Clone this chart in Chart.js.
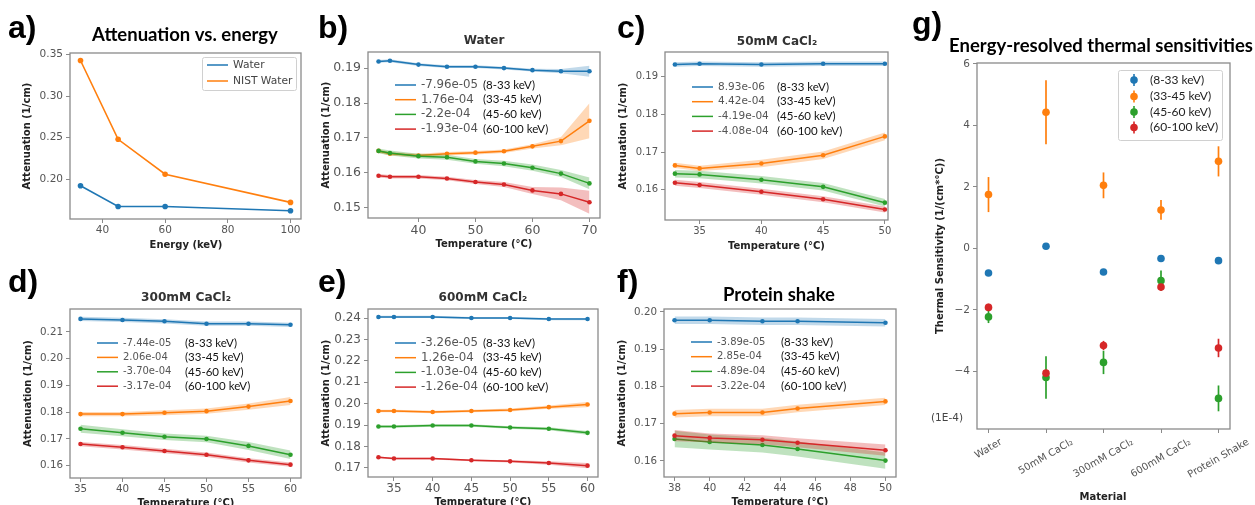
<!DOCTYPE html>
<html><head><meta charset="utf-8">
<script src="https://cdn.jsdelivr.net/npm/chart.js@4/dist/chart.umd.min.js"></script>
<style>
html,body{margin:0;padding:0;background:#fff;width:1255px;height:505px;overflow:hidden;position:relative}
canvas{position:absolute}
</style></head><body>
<script>
// ================= DATA =================
const energyRanges = ['(8-33 keV)', '(33-45 keV)', '(45-60 keV)', '(60-100 keV)'];

// a) Attenuation vs. energy
const aEnergy = [33, 45, 60, 100];
const aWater = [0.192, 0.167, 0.167, 0.162];
const aNistWater = [0.343, 0.248, 0.206, 0.172];
const aSeriesNames = ['Water', 'NIST Water'];
const aXTicks = [40, 60, 80, 100];
const aYTicks = [0.20, 0.25, 0.30, 0.35];

// b) Water
const bTemp = [33, 35, 40, 45, 50, 55, 60, 65, 70];
const b8_33 = [0.1919, 0.1921, 0.1910, 0.1904, 0.1904, 0.1900, 0.1894, 0.1891, 0.1891];
const b8_33Err = [0.0004, 0.0004, 0.0004, 0.0004, 0.0004, 0.0004, 0.0004, 0.0006, 0.0016];
const b33_45 = [0.1663, 0.1655, 0.1650, 0.1655, 0.1658, 0.1662, 0.1676, 0.1691, 0.1749];
const b33_45Err = [0.0005, 0.0005, 0.0005, 0.0005, 0.0005, 0.0005, 0.0006, 0.0012, 0.0050];
const b45_60 = [0.1663, 0.1657, 0.1648, 0.1645, 0.1633, 0.1627, 0.1615, 0.1598, 0.1570];
const b45_60Err = [0.0007, 0.0007, 0.0007, 0.0007, 0.0007, 0.0008, 0.0009, 0.0010, 0.0017];
const b60_100 = [0.1592, 0.1589, 0.1589, 0.1584, 0.1574, 0.1567, 0.1550, 0.1540, 0.1516];
const b60_100Err = [0.0005, 0.0005, 0.0005, 0.0005, 0.0006, 0.0007, 0.0010, 0.0018, 0.0033];
const bSlopes = ['-7.96e-05', '1.76e-04', '-2.2e-04', '-1.93e-04'];
const bXTicks = [40, 50, 60, 70];
const bYTicks = [0.15, 0.16, 0.17, 0.18, 0.19];

// c) 50mM CaCl2
const cTemp = [33, 35, 40, 45, 50];
const c8_33 = [0.1933, 0.1935, 0.1933, 0.1935, 0.1935];
const c8_33Err = [0.0006, 0.0006, 0.0006, 0.0006, 0.0006];
const c33_45 = [0.1665, 0.1657, 0.1670, 0.1692, 0.1742];
const c33_45Err = [0.0007, 0.0007, 0.0010, 0.0010, 0.0010];
const c45_60 = [0.1643, 0.1641, 0.1627, 0.1608, 0.1566];
const c45_60Err = [0.0010, 0.0010, 0.0010, 0.0010, 0.0010];
const c60_100 = [0.1619, 0.1613, 0.1595, 0.1575, 0.1548];
const c60_100Err = [0.0008, 0.0008, 0.0008, 0.0008, 0.0008];
const cSlopes = ['8.93e-06', '4.42e-04', '-4.19e-04', '-4.08e-04'];
const cXTicks = [35, 40, 45, 50];
const cYTicks = [0.16, 0.17, 0.18, 0.19];

// d) 300mM CaCl2
const dTemp = [35, 40, 45, 50, 55, 60];
const d8_33 = [0.2149, 0.2145, 0.2140, 0.2131, 0.2131, 0.2127];
const d8_33Err = [0.0008, 0.0008, 0.0008, 0.0008, 0.0008, 0.0008];
const d33_45 = [0.1793, 0.1793, 0.1798, 0.1804, 0.1821, 0.1842];
const d33_45Err = [0.0008, 0.0008, 0.0009, 0.0010, 0.0012, 0.0015];
const d45_60 = [0.1738, 0.1723, 0.1708, 0.1700, 0.1674, 0.1641];
const d45_60Err = [0.0015, 0.0013, 0.0012, 0.0012, 0.0015, 0.0016];
const d60_100 = [0.1681, 0.1669, 0.1655, 0.1641, 0.1620, 0.1604];
const d60_100Err = [0.0008, 0.0008, 0.0008, 0.0008, 0.0008, 0.0008];
const dSlopes = ['-7.44e-05', '2.06e-04', '-3.70e-04', '-3.17e-04'];
const dXTicks = [35, 40, 45, 50, 55, 60];
const dYTicks = [0.16, 0.17, 0.18, 0.19, 0.20, 0.21];

// e) 600mM CaCl2
const eTemp = [33, 35, 40, 45, 50, 55, 60];
const e8_33 = [0.2405, 0.2405, 0.2405, 0.2400, 0.2400, 0.2395, 0.2395];
const e8_33Err = [0.0005, 0.0005, 0.0005, 0.0005, 0.0005, 0.0005, 0.0005];
const e33_45 = [0.1966, 0.1966, 0.1961, 0.1966, 0.1971, 0.1984, 0.1996];
const e33_45Err = [0.0006, 0.0006, 0.0006, 0.0006, 0.0007, 0.0008, 0.0012];
const e45_60 = [0.1894, 0.1894, 0.1898, 0.1898, 0.1889, 0.1883, 0.1864];
const e45_60Err = [0.0006, 0.0006, 0.0006, 0.0006, 0.0006, 0.0007, 0.0009];
const e60_100 = [0.1750, 0.1744, 0.1744, 0.1736, 0.1731, 0.1723, 0.1711];
const e60_100Err = [0.0004, 0.0004, 0.0004, 0.0004, 0.0005, 0.0008, 0.0012];
const eSlopes = ['-3.26e-05', '1.26e-04', '-1.03e-04', '-1.26e-04'];
const eXTicks = [35, 40, 45, 50, 55, 60];
const eYTicks = [0.17, 0.18, 0.19, 0.20, 0.21, 0.22, 0.23, 0.24];

// f) Protein shake
const fTemp = [38, 40, 43, 45, 50];
const f8_33 = [0.1978, 0.1978, 0.1975, 0.1975, 0.1971];
const f8_33Err = [0.0010, 0.0010, 0.0010, 0.0010, 0.0010];
const f33_45 = [0.1727, 0.1730, 0.1730, 0.1741, 0.1760];
const f33_45Err = [0.0010, 0.0010, 0.0010, 0.0010, 0.0010];
const f45_60 = [0.1659, 0.1651, 0.1643, 0.1632, 0.1601];
const f45_60Err = [0.0022, 0.0020, 0.0020, 0.0020, 0.0022];
const f60_100 = [0.1668, 0.1662, 0.1657, 0.1649, 0.1629];
const f60_100Err = [0.0015, 0.0012, 0.0012, 0.0012, 0.0015];
const fSlopes = ['-3.89e-05', '2.85e-04', '-4.89e-04', '-3.22e-04'];
const fXTicks = [38, 40, 42, 44, 46, 48, 50];
const fYTicks = [0.16, 0.17, 0.18, 0.19, 0.20];

// g) Energy-resolved thermal sensitivities (1E-4)
const gMaterials = ['Water', '50mM CaCl\u2082', '300mM CaCl\u2082', '600mM CaCl\u2082', 'Protein Shake'];
const g8_33 = [-0.80, 0.07, -0.77, -0.33, -0.40];
const g8_33Err = [0, 0, 0, 0, 0];
const g33_45 = [1.75, 4.43, 2.05, 1.25, 2.83];
const g33_45Err = [0.57, 1.04, 0.42, 0.32, 0.49];
const g45_60 = [-2.23, -4.20, -3.71, -1.05, -4.88];
const g45_60Err = [0.20, 0.69, 0.38, 0.33, 0.42];
const g60_100 = [-1.92, -4.06, -3.16, -1.26, -3.24];
const g60_100Err = [0.12, 0.10, 0.15, 0.10, 0.30];
const gYTicks = [-4, -2, 0, 2, 4, 6];

// ================= STYLE / HELPERS =================
const COLORS = ['#1f77b4', '#ff7f0e', '#2ca02c', '#d62728'];
const BANDS = ['rgba(31,119,180,0.28)', 'rgba(255,127,14,0.3)', 'rgba(44,160,44,0.3)', 'rgba(214,39,40,0.3)'];
const FRAME = '#8a8a8a';
const TICKC = '#555';
const DV = '"DejaVu Sans", sans-serif';
const LATO = 'Lato, "Open Sans", sans-serif';
const YW = 40, XH = 22;
Chart.defaults.font.family = DV;
const PANELS = new Map();

function txt(ctx, s, x, y, font, color, align, base) {
  ctx.font = font; ctx.fillStyle = color; ctx.textAlign = align || 'left'; ctx.textBaseline = base || 'alphabetic';
  ctx.fillText(s, x, y);
}

function axisCfg(axis, min, max, ticks, fmt, size) {
  return {
    type: 'linear', min: min, max: max,
    afterBuildTicks: s => { s.ticks = ticks.map(v => ({ value: v })); },
    afterFit: s => {
      if (axis === 'x') s.height = XH; else s.width = YW;
      s.paddingTop = 0; s.paddingBottom = 0; s.paddingLeft = 0; s.paddingRight = 0;
    },
    grid: { display: true, drawOnChartArea: false, drawTicks: true, tickLength: 4, color: FRAME, lineWidth: 1 },
    border: { display: false },
    ticks: { callback: v => fmt(v), font: { family: DV, size: size }, color: TICKC, padding: axis === 'x' ? 1 : 3,
             autoSkip: false, maxRotation: 0, minRotation: 0 }
  };
}

const decor = {
  id: 'decor',
  afterDraw(chart) {
    const p = PANELS.get(chart.canvas); if (!p) return;
    const ctx = chart.ctx, ca = chart.chartArea;
    ctx.save();
    ctx.strokeStyle = FRAME; ctx.lineWidth = 1.3;
    ctx.strokeRect(ca.left, ca.top, ca.right - ca.left, ca.bottom - ca.top);
    ctx.translate(-p.cell[0], -p.cell[1]);
    const [L, T, R, B] = p.plot;
    txt(ctx, p.letter, p.letterPos[0], p.letterPos[1], 'bold 32px "Liberation Sans", Arial, sans-serif', '#000', 'left', 'alphabetic');
    txt(ctx, p.title, p.titlePos[0], p.titlePos[1], p.titleFont, p.titleColor, 'center', 'middle');
    txt(ctx, p.xTitle, (L + R) / 2, B + p.xTitleDy, 'bold 10px ' + DV, '#222', 'center', 'middle');
    ctx.save(); ctx.translate(L - p.yTitleDx, (T + B) / 2); ctx.rotate(-Math.PI / 2);
    txt(ctx, p.yTitle, 0, 0, 'bold 10px ' + DV, '#222', 'center', 'middle');
    ctx.restore();
    if (p.extra) p.extra(ctx, chart, p);
    ctx.restore();
  }
};

function makeCanvas(cell) {
  const c = document.createElement('canvas');
  c.width = cell[2]; c.height = cell[3];
  c.style.left = cell[0] + 'px'; c.style.top = cell[1] + 'px';
  c.style.width = cell[2] + 'px'; c.style.height = cell[3] + 'px';
  document.body.appendChild(c);
  return c;
}

function baseOptions(p) {
  const [cx, cy, cw, ch] = p.cell; const [L, T, R, B] = p.plot;
  return {
    responsive: false, animation: false, devicePixelRatio: 1,
    layout: { padding: { left: L - cx - YW, top: T - cy, right: cx + cw - R, bottom: cy + ch - B - XH } },
    plugins: { legend: { display: false }, tooltip: { enabled: false } },
    elements: { line: { tension: 0 } },
    scales: {
      x: axisCfg('x', p.xMin, p.xMax, p.xTicks, p.xFmt, p.tickSize),
      y: axisCfg('y', p.yMin, p.yMax, p.yTicks, p.yFmt, p.tickSize)
    }
  };
}

const fmt2 = v => v.toFixed(2);
const fmt0 = v => String(v);

function bandDatasets(x, ys, errs, ptR) {
  const ds = [];
  ys.forEach((y, k) => {
    const e = errs[k], base = 100 - 10 * k;
    ds.push({ data: x.map((t, i) => ({ x: t, y: y[i] + e[i] })), borderColor: 'transparent', borderWidth: 0,
              pointRadius: 0, fill: '+1', backgroundColor: BANDS[k], order: base + 2 });
    ds.push({ data: x.map((t, i) => ({ x: t, y: y[i] - e[i] })), borderColor: 'transparent', borderWidth: 0,
              pointRadius: 0, fill: false, order: base + 1 });
    ds.push({ data: x.map((t, i) => ({ x: t, y: y[i] })), borderColor: COLORS[k], borderWidth: 1.5,
              pointRadius: ptR, pointBackgroundColor: COLORS[k], pointBorderWidth: 0, fill: false, order: base });
  });
  return ds;
}

function inLegend(ctx, chart, p) {
  const [L, T] = p.plot;
  for (let k = 0; k < 4; k++) {
    const y = T + p.legY0 + p.legDy * k;
    ctx.strokeStyle = COLORS[k]; ctx.lineWidth = 1.5;
    ctx.beginPath(); ctx.moveTo(L + 27, y); ctx.lineTo(L + 48, y); ctx.stroke();
    txt(ctx, p.slopes[k], L + 53, y, p.numSize + 'px ' + DV, '#555', 'left', 'middle');
    txt(ctx, energyRanges[k], L + p.rangeDx, y, '11.5px ' + LATO, '#111', 'left', 'middle');
  }
}

function attenPanel(p) {
  const canvas = makeCanvas(p.cell);
  p.extra = inLegend; p.xFmt = fmt0; p.yFmt = fmt2;
  p.xTitle = 'Temperature (\u00B0C)'; p.yTitle = 'Attenuation (1/cm)';
  p.xTitleDy = p.xTitleDy || 26; p.yTitleDx = 42;
  PANELS.set(canvas, p);
  new Chart(canvas, { type: 'line', data: { datasets: bandDatasets(p.temp, p.series, p.errs, 2.3) },
                      options: baseOptions(p), plugins: [decor] });
}

// ================= PANEL a =================
(function () {
  const p = {
    cell: [0, 0, 305, 252], plot: [70, 53, 302, 219],
    xMin: 29.65, xMax: 103.35, yMin: 0.152, yMax: 0.352, xTicks: aXTicks, yTicks: aYTicks,
    xFmt: fmt0, yFmt: fmt2, tickSize: 10.5,
    letter: 'a)', letterPos: [8, 38],
    title: 'Attenuation vs. energy', titlePos: [185, 35], titleFont: 'bold 18.5px ' + LATO, titleColor: '#000',
    xTitle: 'Energy (keV)', yTitle: 'Attenuation (1/cm)', xTitleDy: 26, yTitleDx: 43,
    extra: (ctx) => {
      ctx.fillStyle = 'rgba(255,255,255,0.8)'; ctx.strokeStyle = '#d0d0d0'; ctx.lineWidth = 1;
      ctx.beginPath(); ctx.roundRect(202.5, 57.5, 94, 33, 2); ctx.fill(); ctx.stroke();
      [aWater, aNistWater].forEach((s, k) => {
        const y = 65 + 16 * k;
        ctx.strokeStyle = COLORS[k]; ctx.lineWidth = 1.5;
        ctx.beginPath(); ctx.moveTo(207, y); ctx.lineTo(228, y); ctx.stroke();
        txt(ctx, aSeriesNames[k], 233, y, '10.7px ' + DV, '#444', 'left', 'middle');
      });
    }
  };
  const canvas = makeCanvas(p.cell); PANELS.set(canvas, p);
  const ds = [aWater, aNistWater].map((s, k) => ({
    data: aEnergy.map((e, i) => ({ x: e, y: s[i] })), borderColor: COLORS[k], borderWidth: 1.6,
    pointRadius: 2.8, pointBackgroundColor: COLORS[k], pointBorderWidth: 0, fill: false, order: 10 - k
  }));
  new Chart(canvas, { type: 'line', data: { datasets: ds }, options: baseOptions(p), plugins: [decor] });
})();

// ================= PANELS b-f =================
attenPanel({ cell: [305, 0, 305, 252], plot: [368, 52, 600, 218], xMin: 31.15, xMax: 71.85, yMin: 0.1471, yMax: 0.1946,
  xTicks: bXTicks, yTicks: bYTicks, tickSize: 12.5, temp: bTemp,
  series: [b8_33, b33_45, b45_60, b60_100], errs: [b8_33Err, b33_45Err, b45_60Err, b60_100Err],
  slopes: bSlopes, numSize: 11.8, legY0: 33, legDy: 14.7, rangeDx: 115,
  letter: 'b)', letterPos: [318, 38], title: 'Water', titlePos: [484, 41], titleFont: 'bold 12px ' + DV, titleColor: '#333' });

attenPanel({ cell: [610, 0, 300, 252], plot: [665, 52, 888, 220], xMin: 32.2, xMax: 50.25, yMin: 0.152, yMax: 0.1966,
  xTicks: cXTicks, yTicks: cYTicks, tickSize: 10, temp: cTemp,
  series: [c8_33, c33_45, c45_60, c60_100], errs: [c8_33Err, c33_45Err, c45_60Err, c60_100Err],
  slopes: cSlopes, numSize: 10.5, legY0: 35, legDy: 14.7, rangeDx: 112,
  letter: 'c)', letterPos: [617, 38], title: '50mM CaCl\u2082', titlePos: [777, 42], titleFont: 'bold 12px ' + DV, titleColor: '#333' });

attenPanel({ cell: [0, 252, 305, 253], plot: [70, 309, 302, 478], xMin: 33.75, xMax: 61.25, yMin: 0.1554, yMax: 0.2186,
  xTicks: dXTicks, yTicks: dYTicks, tickSize: 10.3, temp: dTemp,
  series: [d8_33, d33_45, d45_60, d60_100], errs: [d8_33Err, d33_45Err, d45_60Err, d60_100Err],
  slopes: dSlopes, numSize: 10, legY0: 34, legDy: 14.4, rangeDx: 115, xTitleDy: 25,
  letter: 'd)', letterPos: [8, 292], title: '300mM CaCl\u2082', titlePos: [186, 298], titleFont: 'bold 12.2px ' + DV, titleColor: '#333' });

attenPanel({ cell: [305, 252, 305, 253], plot: [368, 309, 598, 477], xMin: 31.65, xMax: 61.35, yMin: 0.1658, yMax: 0.2442,
  xTicks: eXTicks, yTicks: eYTicks, tickSize: 12, temp: eTemp,
  series: [e8_33, e33_45, e45_60, e60_100], errs: [e8_33Err, e33_45Err, e45_60Err, e60_100Err],
  slopes: eSlopes, numSize: 11.8, legY0: 34, legDy: 14.7, rangeDx: 115, xTitleDy: 25,
  letter: 'e)', letterPos: [318, 292], title: '600mM CaCl\u2082', titlePos: [483, 298], titleFont: 'bold 12px ' + DV, titleColor: '#333' });

attenPanel({ cell: [610, 252, 300, 253], plot: [664, 309, 896, 477], xMin: 37.4, xMax: 50.6, yMin: 0.1557, yMax: 0.2008,
  xTicks: fXTicks, yTicks: fYTicks, tickSize: 10.3, temp: fTemp,
  series: [f8_33, f33_45, f45_60, f60_100], errs: [f8_33Err, f33_45Err, f45_60Err, f60_100Err],
  slopes: fSlopes, numSize: 10, legY0: 33, legDy: 14.7, rangeDx: 117, xTitleDy: 25,
  letter: 'f)', letterPos: [617, 292], title: 'Protein shake', titlePos: [779, 295], titleFont: 'bold 18.5px ' + LATO, titleColor: '#000' });

// ================= PANEL g =================
(function () {
  const series = [g8_33, g33_45, g45_60, g60_100];
  const errs = [g8_33Err, g33_45Err, g45_60Err, g60_100Err];
  const p = {
    cell: [910, 0, 345, 505], plot: [977, 63, 1230, 429],
    xMin: -0.2, xMax: 4.2, yMin: -5.876, yMax: 6.03, xTicks: [0, 1, 2, 3, 4], yTicks: gYTicks,
    xFmt: () => '', yFmt: v => (v < 0 ? '\u2212' + Math.abs(v) : String(v)), tickSize: 10.5,
    letter: 'g)', letterPos: [912, 34],
    title: 'Energy-resolved thermal sensitivities', titlePos: [1101, 46], titleFont: 'bold 18.5px ' + LATO, titleColor: '#000',
    xTitle: '', yTitle: 'Thermal Sensitivity (1/(cm*\u00B0C))', xTitleDy: 0, yTitleDx: 37,
    extra: (ctx, chart) => {
      const xs = chart.scales.x;
      ctx.font = '10px ' + DV;
      gMaterials.forEach((m, i) => {
        const x = xs.getPixelForValue(i) + 910;
        const w = ctx.measureText(m).width, h = 11.5;
        const top = 429 + 4 + 3.5;
        const bh = w * 0.5 + h * 0.866;
        ctx.save(); ctx.translate(x, top + bh / 2); ctx.rotate(-Math.PI / 6);
        txt(ctx, m, 0, 0, '10px ' + DV, '#555', 'center', 'middle');
        ctx.restore();
        ctx.font = '10px ' + DV;
      });
      txt(ctx, 'Material', 1103, 497, 'bold 10px ' + DV, '#222', 'center', 'middle');
      txt(ctx, '(1E-4)', 947, 418, '10.5px ' + DV, '#444', 'center', 'middle');
      ctx.fillStyle = 'rgba(255,255,255,0.8)'; ctx.strokeStyle = '#d0d0d0'; ctx.lineWidth = 1;
      ctx.beginPath(); ctx.roundRect(1118.5, 70.5, 104, 70, 2); ctx.fill(); ctx.stroke();
      [80, 96.5, 112, 127.5].forEach((y, k) => {
        ctx.strokeStyle = COLORS[k]; ctx.lineWidth = 1.6;
        ctx.beginPath(); ctx.moveTo(1134, y - 6); ctx.lineTo(1134, y + 6); ctx.stroke();
        ctx.fillStyle = COLORS[k]; ctx.beginPath(); ctx.arc(1134, y, 3.8, 0, Math.PI * 2); ctx.fill();
        txt(ctx, energyRanges[k], 1150, y, '12px ' + LATO, '#222', 'left', 'middle');
      });
    }
  };
  const canvas = makeCanvas(p.cell); PANELS.set(canvas, p);
  const ds = series.map((s, k) => ({
    label: energyRanges[k], data: s.map((v, i) => ({ x: i, y: v })), errs: errs[k],
    pointRadius: 3.8, pointBackgroundColor: COLORS[k], pointBorderWidth: 0, showLine: false, order: 10 - k
  }));
  const errorBars = {
    id: 'errorBars',
    beforeDatasetDraw(chart, args) {
      const d = chart.data.datasets[args.index]; const ctx = chart.ctx;
      const xs = chart.scales.x, ys = chart.scales.y;
      ctx.save(); ctx.strokeStyle = COLORS[args.index]; ctx.lineWidth = 1.7;
      d.data.forEach((pt, i) => {
        const e = d.errs[i]; if (!e) return;
        const x = xs.getPixelForValue(pt.x);
        ctx.beginPath(); ctx.moveTo(x, ys.getPixelForValue(pt.y - e)); ctx.lineTo(x, ys.getPixelForValue(pt.y + e)); ctx.stroke();
      });
      ctx.restore();
    }
  };
  new Chart(canvas, { type: 'scatter', data: { datasets: ds }, options: baseOptions(p), plugins: [errorBars, decor] });
})();
</script>
</body></html>
